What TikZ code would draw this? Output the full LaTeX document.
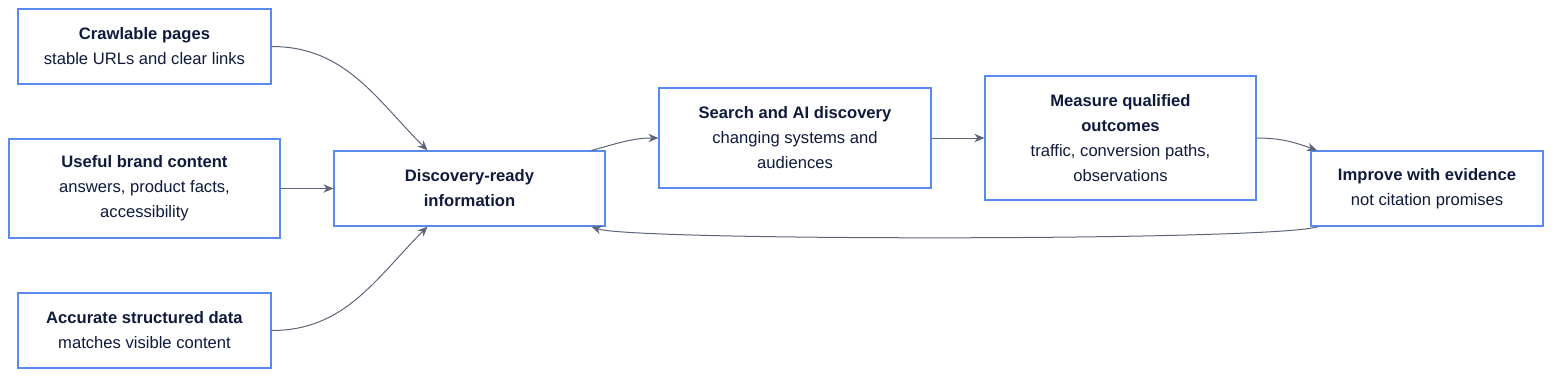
\documentclass[tikz,border=0pt]{standalone}
\usepackage{fontspec}
\setmainfont{Liberation Sans}
\usetikzlibrary{arrows.meta}
\definecolor{boxblue}{RGB}{88,138,240}
\definecolor{inkblue}{RGB}{16,26,60}
\definecolor{linegray}{RGB}{92,100,120}
\begin{document}
\begin{tikzpicture}[
    x=0.5pt, y=-0.5pt,
    card/.style={rectangle, draw=boxblue, line width=0.6pt, fill=white, align=center, inner sep=0pt, text=inkblue, font=\fontsize{8.3}{12.5}\selectfont, execute at begin node={\rule{0pt}{8pt}}},
    flow/.style={-{Stealth[length=5pt, width=4.2pt]}, draw=linegray, line width=0.5pt}
]
\useasboundingbox (0,0) rectangle (1568,382);

\node[card, minimum width=126.5pt, minimum height=37.5pt] (crawl) at (144.5,46.5) {\textbf{Crawlable pages}\\stable URLs and clear links};
\node[card, minimum width=135.5pt, minimum height=49.5pt] (brand) at (144.5,188.5) {\textbf{Useful brand content}\\answers, product facts,\\accessibility};
\node[card, minimum width=126.5pt, minimum height=37.5pt] (struct) at (144.5,330.5) {\textbf{Accurate structured data}\\matches visible content};
\node[card, minimum width=135.5pt, minimum height=37.5pt] (ready) at (469.5,188.5) {\textbf{Discovery-ready}\\\textbf{information}};
\node[card, minimum width=136pt, minimum height=50pt] (search) at (795,138) {\textbf{Search and AI discovery}\\changing systems and\\audiences};
\node[card, minimum width=135.5pt, minimum height=62pt] (measure) at (1120.5,138) {\textbf{Measure qualified}\\\textbf{outcomes}\\traffic, conversion paths,\\observations};
\node[card, minimum width=116pt, minimum height=37.5pt] (improve) at (1427,188.5) {\textbf{Improve with evidence}\\not citation promises};

\draw[flow] (crawl.east) to[out=0, in=135] ([xshift=-21pt]ready.north);
\draw[flow] (brand.east) -- (ready.west);
\draw[flow] (struct.east) to[out=0, in=-135] ([xshift=-21pt]ready.south);
\draw[flow] ([xshift=61pt]ready.north) to[out=15, in=180] (search.west);
\draw[flow] (search.east) -- (measure.west);
\draw[flow] (measure.east) to[out=0, in=160] ([xshift=-55pt]improve.north);
\draw[flow] ([xshift=-54.5pt]improve.south) to[out=-160, in=-20, looseness=0.15] ([xshift=61pt]ready.south);

\end{tikzpicture}
\end{document}
